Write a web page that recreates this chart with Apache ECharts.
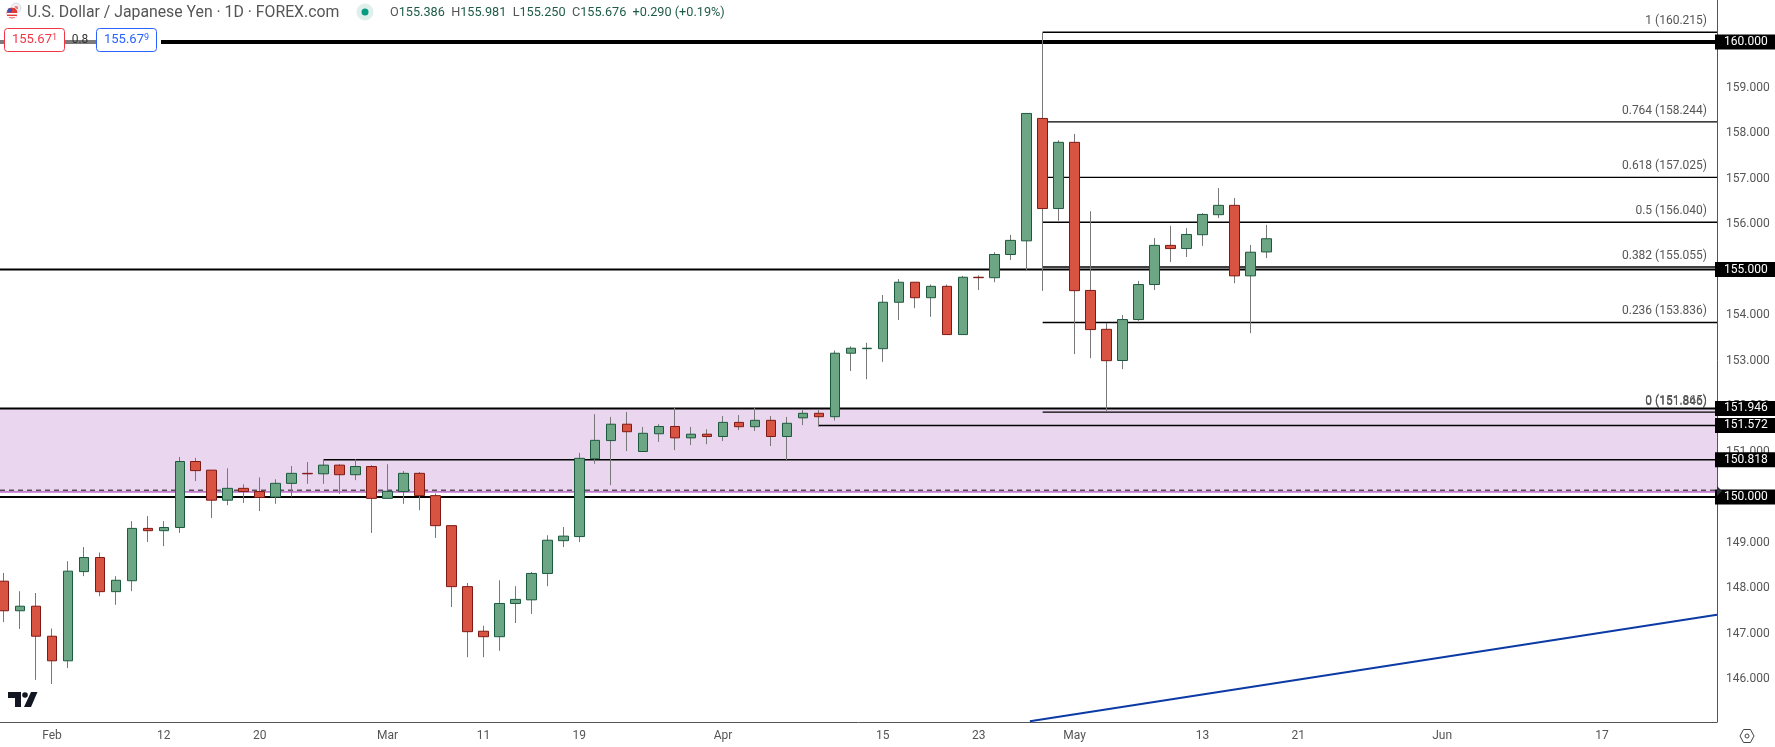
<!DOCTYPE html>
<html><head><meta charset="utf-8">
<script src="https://cdn.jsdelivr.net/npm/echarts@6/dist/echarts.min.js"></script>
<style>html,body{margin:0;padding:0;background:#fff}#c{width:1775px;height:747px}</style>
</head><body><div id="c"></div>
<script>
const opens=[148.15,147.50,147.60,146.94,146.40,148.36,148.67,147.92,148.16,149.31,149.26,149.33,150.78,150.59,149.93,150.19,150.12,150.00,150.30,150.52,150.51,150.70,150.49,150.67,149.97,150.12,150.52,150.03,149.37,148.03,147.05,146.93,147.66,147.74,148.32,149.04,149.13,150.84,151.24,151.60,151.00,151.39,151.55,151.30,151.38,151.33,151.64,151.545,151.685,151.33,151.74,151.84,151.765,153.16,153.26,153.26,154.28,154.72,154.38,154.63,153.57,154.83,154.82,155.33,155.63,158.32,156.34,157.795,154.54,153.685,153.00,153.90,154.67,155.53,155.46,155.765,156.205,156.41,154.86,155.386];
const closes=[147.50,147.60,146.94,146.40,148.37,148.67,147.92,148.17,149.31,149.26,149.33,150.78,150.58,149.93,150.19,150.12,149.99,150.30,150.52,150.51,150.70,150.49,150.67,149.97,150.125,150.52,150.03,149.37,148.03,147.04,146.93,147.66,147.75,148.32,149.05,149.14,150.85,151.245,151.60,151.435,151.40,151.55,151.30,151.38,151.33,151.64,151.545,151.685,151.33,151.62,151.84,151.765,153.16,153.27,153.27,154.28,154.72,154.38,154.63,153.57,154.83,154.82,155.33,155.64,158.43,156.34,157.795,154.535,153.68,152.996,153.90,154.67,155.53,155.46,155.77,156.21,156.41,154.86,155.38,155.676];
const highs=[148.33,147.93,147.89,147.11,148.59,148.90,148.78,148.26,149.47,149.58,149.47,150.88,150.86,150.59,150.63,150.28,150.43,150.39,150.68,150.77,150.83,150.72,150.83,150.70,150.72,150.57,150.55,150.08,149.37,148.11,147.17,148.17,148.04,148.35,149.16,149.34,150.97,151.82,151.76,151.87,151.54,151.60,151.97,151.54,151.49,151.78,151.80,151.955,151.78,151.76,151.93,151.93,153.22,153.31,153.39,154.44,154.79,154.72,154.67,154.67,154.86,154.87,155.38,155.76,158.43,160.215,157.84,157.98,156.28,153.82,154.00,154.75,155.69,155.96,155.91,156.24,156.79,156.57,155.54,155.981];
const lows=[147.25,147.10,145.98,145.89,146.24,148.26,147.82,147.63,147.93,149.01,148.92,149.21,150.35,149.54,149.82,149.87,149.69,149.85,150.01,150.29,150.29,150.07,150.37,149.21,149.97,149.85,149.71,149.10,147.58,146.48,146.48,146.62,147.23,147.43,148.04,148.90,149.01,150.73,150.26,151.01,150.99,151.21,151.03,151.14,151.16,151.23,151.47,151.45,151.12,150.81,151.58,151.545,151.68,152.77,152.59,152.97,153.89,154.15,153.96,153.57,153.57,154.55,154.72,155.21,154.97,154.53,156.07,153.14,153.05,151.87,152.81,153.87,154.55,155.165,155.275,155.52,156.13,154.70,153.60,155.25];

const xTickIndex=[3,10,16,24,30,36,45,55,61,67,75,81,90,100];
const xTickLabels=['Feb','12','20','Mar','11','19','Apr','15','23','May','13','21','Jun','17'];
const yTicks=[146,147,148,149,150,151,152,153,154,155,156,157,158,159,160,161];

const xMin=-0.25, xMax=107.2;
const yMin=145.055, yMax=161.143;

const levelPrices=[160,155,151.946,151.572,150.818,150];
const levelStarts=[xMin,xMin,xMin,51,20,xMin];
const levelWidths=[4,2,2,1.4,1.4,2];

const fibStart=65;
const fibRatios=['1','0.764','0.618','0.5','0.382','0.236','0','0'];
const fibPrices=[160.215,158.244,157.025,156.040,155.055,153.836,151.846,151.865];
const fibLineWidths=[1.4,1.4,1.4,1.4,1.4,1.4,0,1.4];

const zoneTop=151.946, zoneBottom=150.11, dashedLevel=150.15;
const trendX=[64.2,107.2], trendY=[145.07,147.41];

const FONT='Roboto';
const GREEN='#6ca684',GREEN_B='#1c5a3f',RED='#d95343',RED_B='#7e1a14',WICK='#787878';
const TXT='#555555';

const candleData=opens.map((o,i)=>[i,o,closes[i],lows[i],highs[i]]);
const bodyData=opens.map((o,i)=>[i,o,closes[i],Math.min(o,closes[i]),Math.max(o,closes[i])]);

const series=[];
series.push({type:'line',name:'zone',data:[[xMin,zoneBottom],[xMax,zoneBottom]],symbol:'none',z:1,
  lineStyle:{color:'#9c27b0',width:1},
  markArea:{silent:true,itemStyle:{color:'#ebd6ef'},data:[[{coord:[xMin,zoneBottom]},{coord:[xMax,zoneTop]}]]}});
series.push({type:'line',name:'dash',data:[[xMin,dashedLevel],[xMax,dashedLevel]],symbol:'none',z:2,
  lineStyle:{color:'#111',width:1,type:[5,4]}});
fibPrices.forEach((p,i)=>{
  series.push({type:'line',name:'fib'+i,data:[[fibStart,p],[xMax,p]],symbol:'none',z:2,
    lineStyle:{color:'#000',width:fibLineWidths[i]},
    endLabel:{show:true,align:'right',offset:[-18,-11],formatter:fibRatios[i]+' ('+p.toFixed(3)+')',
      color:TXT,fontFamily:FONT,fontSize:12}});
});
levelPrices.forEach((p,i)=>{
  series.push({type:'line',name:'lvl'+i,data:[[levelStarts[i],p],[xMax,p]],symbol:'none',z:3,
    lineStyle:{color:'#000',width:levelWidths[i]},
    endLabel:{show:true,distance:0,offset:[-2,0],formatter:p.toFixed(3),color:'#fff',backgroundColor:'#000',
      padding:[2,8,1,9],fontFamily:FONT,fontSize:12}});
});
series.push({type:'line',name:'trend',data:trendX.map((x,i)=>[x,trendY[i]]),symbol:'none',z:2,
  lineStyle:{color:'#0c3aa5',width:2}});
series.push({type:'candlestick',name:'wicks',data:candleData,encode:{x:0,y:[1,2,3,4]},barWidth:1,barMinWidth:1,z:4,
  itemStyle:{color:WICK,color0:WICK,borderColor:WICK,borderColor0:WICK,borderColorDoji:WICK,borderWidth:1}});
series.push({type:'candlestick',name:'USDJPY',data:bodyData,encode:{x:0,y:[1,2,3,4]},barWidth:10,z:5,
  itemStyle:{color:GREEN,color0:RED,borderColor:GREEN_B,borderColor0:RED_B,borderColorDoji:GREEN_B,borderWidth:1}});

const graphic=[
  {type:'circle',shape:{cx:16,cy:8,r:5},style:{fill:'#f0f0f4',stroke:'#dcdce4'},z:200},
  {type:'circle',shape:{cx:16,cy:8,r:2},style:{fill:'#e57373'},z:200},
  {type:'circle',shape:{cx:12,cy:13,r:6},style:{fill:'#e53935',stroke:'#fff'},z:201},
  {type:'rect',shape:{x:7,y:13,width:11,height:1.6},style:{fill:'#fff'},z:202},
  {type:'rect',shape:{x:7,y:16,width:9,height:1.4},style:{fill:'#fff'},z:202},
  {type:'rect',shape:{x:8,y:8.5,width:4,height:4},style:{fill:'#3f51b5'},z:202},
  {type:'text',x:27,y:13,z:200,style:{text:'U.S. Dollar / Japanese Yen · 1D · FOREX.com',fill:'#555',font:'15.8px '+FONT,textVerticalAlign:'middle'}},
  {type:'circle',shape:{cx:365,cy:12,r:8.5},style:{fill:'#dff0ec'},z:200},
  {type:'circle',shape:{cx:365,cy:12,r:3.5},style:{fill:'#0a9a80'},z:201},
  {type:'text',x:390,y:13,z:200,style:{
    text:'{l|O}{v|155.386}  {l|H}{v|155.981}  {l|L}{v|155.250}  {l|C}{v|155.676}  {v|+0.290 (+0.19%)}',
    textVerticalAlign:'middle',font:'12.7px '+FONT,
    rich:{l:{fill:'#555',font:'12.7px '+FONT},v:{fill:'#1f5c47',font:'12.7px '+FONT}}}},
  {type:'rect',shape:{x:0,y:40,width:158,height:4},style:{fill:'#7b7b7b'},z:200},
  {type:'rect',shape:{x:156,y:38,width:5,height:8},style:{fill:'#fff'},z:200},
  {type:'rect',shape:{x:4.5,y:28.5,width:60,height:23,r:3},style:{fill:'#fff',stroke:'#f23645',lineWidth:1},z:201},
  {type:'rect',shape:{x:96.5,y:28.5,width:60,height:23,r:3},style:{fill:'#fff',stroke:'#2962ff',lineWidth:1},z:201},
  {type:'text',x:12,y:40,z:202,style:{text:'{a|155.67}{b|1}',textVerticalAlign:'middle',rich:{a:{fill:'#f23645',font:'13px '+FONT},b:{fill:'#f23645',font:'9px '+FONT,verticalAlign:'top'}}}},
  {type:'text',x:104,y:40,z:202,style:{text:'{a|155.67}{b|9}',textVerticalAlign:'middle',rich:{a:{fill:'#2962ff',font:'13px '+FONT},b:{fill:'#2962ff',font:'9px '+FONT,verticalAlign:'top'}}}},
  {type:'text',x:80,y:40,z:202,style:{text:'0.8',fill:'#333',font:'12px '+FONT,textAlign:'center',textVerticalAlign:'middle'}},
  {type:'polygon',shape:{points:[[8,692],[21,692],[21,707],[15,707],[15,698],[8,698]]},style:{fill:'#131722'},z:200},
  {type:'circle',shape:{cx:25,cy:695,r:2.8},style:{fill:'#131722'},z:200},
  {type:'polygon',shape:{points:[[31,692],[37.5,692],[31,707],[24,707]]},style:{fill:'#131722'},z:200},
  {type:'polygon',shape:{points:[[1740,736],[1743.5,729.5],[1750.5,729.5],[1754,736],[1750.5,742.5],[1743.5,742.5]]},style:{fill:'none',stroke:'#444',lineWidth:1},z:200},
  {type:'circle',shape:{cx:1747,cy:736,r:2},style:{fill:'none',stroke:'#444',lineWidth:1},z:200},
  {type:'polygon',shape:{points:[[1717,486],[1722,491],[1717,496]]},style:{fill:'#2a2e39'},z:200}
];

const option={
  animation:false,
  backgroundColor:'#fff',
  grid:{left:0,right:58,top:-10,bottom:25,containLabel:false,outerBoundsMode:'none'},
  xAxis:{type:'value',min:xMin,max:xMax,splitLine:{show:false},
    axisLine:{show:true,onZero:false,lineStyle:{color:'#555',width:1}},axisTick:{show:false},
    axisLabel:{customValues:xTickIndex,margin:8,color:TXT,fontFamily:FONT,fontSize:12,
      formatter:v=>xTickLabels[xTickIndex.indexOf(v)]||''}},
  yAxis:{type:'value',position:'right',min:yMin,max:yMax,scale:true,splitLine:{show:false},
    axisLine:{show:true,onZero:false,lineStyle:{color:'#555',width:1}},axisTick:{show:false},
    axisLabel:{customValues:yTicks,margin:9,color:TXT,fontFamily:FONT,fontSize:12,formatter:v=>v.toFixed(3)}},
  series,graphic
};
const chart=echarts.init(document.getElementById('c'),null,{renderer:'canvas'});
chart.setOption(option);
</script></body></html>
